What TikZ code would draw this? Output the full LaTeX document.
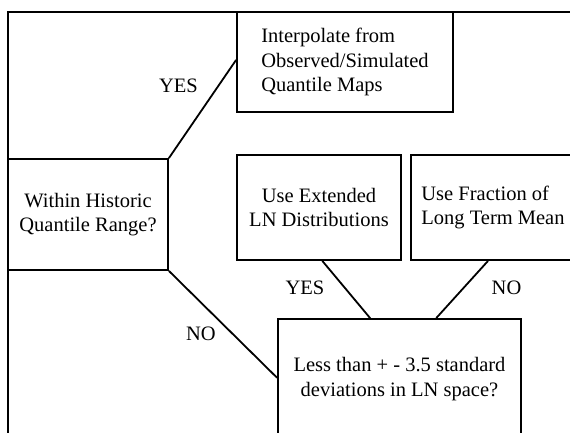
\documentclass[tikz,border=0pt]{standalone}
\usepackage{fontspec}
\setmainfont{Liberation Serif}
\usetikzlibrary{calc}

\tikzset{
  box/.style={draw,rectangle,inner sep=0pt,align=center},
  answer/.style={inner sep=0pt}
}

\begin{document}
\begin{tikzpicture}[x=1pt,y=-1pt,line width=1.8pt,
  every node/.style={font=\fontsize{20.5}{24.5}\selectfont}]
\useasboundingbox (0,0) rectangle (570,432);
\clip (0,0) rectangle (570,432);
\draw (8,12) rectangle (620,480);
\node[box,minimum width=216pt,minimum height=100pt,align=left] (interp) at (345,62) {Interpolate from\\Observed/Simulated\\Quantile Maps};
\node[box,minimum width=160pt,minimum height=111pt] (within) at (88,214.5) {Within Historic\\Quantile Range?};
\node[box,minimum width=164pt,minimum height=105pt] (extend) at (319,207.5) {Use Extended\\LN Distributions};
\node[box,minimum width=164pt,minimum height=105pt,align=left] (fraction) at (493,207.5) {Use Fraction of\\Long Term Mean};
\node[box,minimum width=243pt,minimum height=120pt] (less) at (399.5,379) {Less than + - 3.5 standard\\deviations in LN space?};
% answers
\node[answer] (yes1) at (178.5,86) {YES};
\node[answer] (no1) at (201,334) {NO};
\node[answer] (yes2) at (305,288) {YES};
\node[answer] (no2) at (506.5,288) {NO};
\draw (within.north east) -- ($(interp.north west)!0.48!(interp.south west)$);
\draw (within.south east) -- ($(less.north west)!0.49!(less.south west)$);
\draw ($(extend.south west)!0.52!(extend.south east)$) -- ($(less.north west)!0.38!(less.north east)$);
\draw ($(fraction.south west)!0.47!(fraction.south east)$) -- ($(less.north west)!0.65!(less.north east)$);
\end{tikzpicture}
\end{document}
